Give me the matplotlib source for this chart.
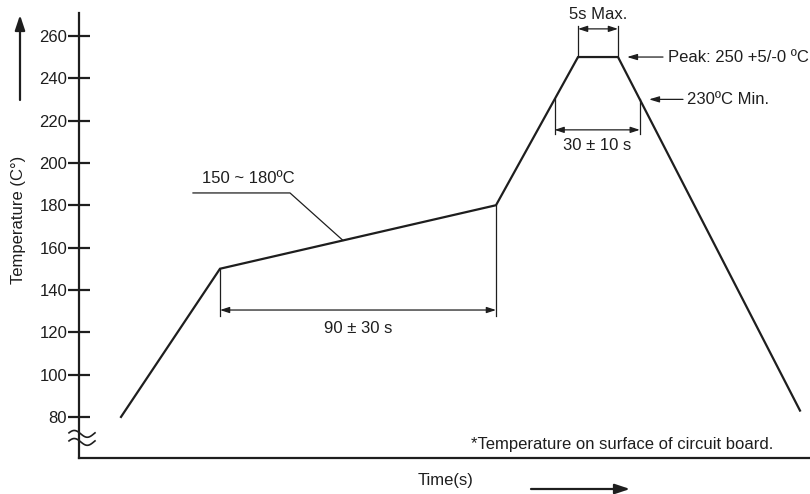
import numpy as np
import matplotlib
matplotlib.use('Agg')
import matplotlib.pyplot as plt

plt.rcParams['font.family'] = ['Liberation Sans', 'DejaVu Sans']

# reflow profile (schematic time units)
time = [42, 141, 417, 499, 539, 721]
temp = [80, 150, 180, 250, 250, 83]
yticks = [80, 100, 120, 140, 160, 180, 200, 220, 240, 260]
min_temp = 230

ink = '#1e1e1e'
fs = 12

fig = plt.figure(figsize=(8.1, 4.94), dpi=100)
ax = fig.add_axes([79 / 810, 36 / 494, 731 / 810, 445 / 494])
ax.plot(time, temp, color=ink, lw=1.6, solid_joinstyle='miter')
ax.set_xlim(0, 731)
ax.set_ylim(60.6, 270.8)

for s in ['top', 'right']:
    ax.spines[s].set_visible(False)
for s in ['left', 'bottom']:
    ax.spines[s].set_linewidth(1.6)
    ax.spines[s].set_color(ink)
ax.set_xticks([])
ax.set_yticks(yticks)
ax.tick_params(axis='y', direction='inout', length=16, width=1.6, color=ink,
               pad=0.5, labelsize=fs, labelcolor=ink)

# axis break mark
wx = np.linspace(-10, 16, 60)
for yb in [72.0, 68.2]:
    ax.plot(wx, yb + 1.6 * np.sin((wx + 10) / 26 * 2 * np.pi + 0.3), color=ink,
            lw=1.2, clip_on=False)

thin = dict(color=ink, lw=0.9)
arr = dict(arrowstyle='<|-|>,head_length=0.55,head_width=0.18', color=ink, lw=0.9,
           shrinkA=0, shrinkB=0)

# 230 crossings on ramp up / cool down
t_up = np.interp(min_temp, temp[2:4], time[2:4])
t_dn = np.interp(-min_temp, [-temp[4], -temp[5]], [time[4], time[5]])

# soak duration
ax.plot([time[1], time[1]], [temp[1], 127.7], **thin)
ax.plot([time[2], time[2]], [temp[2], 127.7], **thin)
ax.annotate('', xy=(time[1], 130.5), xytext=(time[2], 130.5), arrowprops=arr)
ax.text((time[1] + time[2]) / 2, 122, '90 ± 30 s', ha='center', va='center',
        fontsize=fs, color=ink)

# soak temperature leader
t_lead = 264
T_lead = np.interp(t_lead, time[1:3], temp[1:3])
ax.plot([114, 211, t_lead], [185.8, 185.8, T_lead], **thin)
ax.text(123, 192.5, '150 ~ 180ºC', ha='left', va='center', fontsize=fs, color=ink)

# peak dwell
ax.plot([time[3], time[3]], [temp[3], 264.7], **thin)
ax.plot([time[4], time[4]], [temp[4], 264.7], **thin)
ax.annotate('', xy=(time[3], 263.3), xytext=(time[4], 263.3), arrowprops=arr)
ax.text((time[3] + time[4]) / 2, 270.2, '5s Max.', ha='center', va='center',
        fontsize=fs, color=ink, clip_on=False)

# time above 230
ax.plot([t_up, t_up], [min_temp, 213.7], **thin)
ax.plot([t_dn, t_dn], [min_temp, 213.7], **thin)
ax.annotate('', xy=(t_up, 215.6), xytext=(t_dn, 215.6), arrowprops=arr)
ax.text((t_up + t_dn) / 2, 208, '30 ± 10 s', ha='center', va='center',
        fontsize=fs, color=ink)

side = dict(arrowstyle='-|>,head_length=0.6,head_width=0.18', color=ink, lw=0.9,
            shrinkA=0, shrinkB=0)
ax.annotate('', xy=(548, temp[4]), xytext=(584, temp[4]), arrowprops=side)
ax.text(589, temp[4], 'Peak: 250 +5/-0 ºC', ha='left', va='center', fontsize=fs,
        color=ink, clip_on=False)
ax.annotate('', xy=(570, min_temp), xytext=(604, min_temp), arrowprops=side)
ax.text(608, min_temp, '230ºC Min.', ha='left', va='center', fontsize=fs, color=ink)

ax.text(694, 67.2, '*Temperature on surface of circuit board.', ha='right',
        va='center', fontsize=fs, color=ink)

# axis titles and direction arrows
big = dict(arrowstyle='-|>,head_length=0.9,head_width=0.3', color=ink, lw=1.6,
           shrinkA=0, shrinkB=0)
fig.text(19 / 810, 1 - 220 / 494, 'Temperature (C°)', rotation=90, ha='center',
         va='center', fontsize=fs, color=ink)
ax.annotate('', xy=(20, 494 - 15), xytext=(20, 494 - 100), xycoords='figure pixels',
            textcoords='figure pixels', arrowprops=big)
fig.text(446 / 810, 1 - 480 / 494, 'Time(s)', ha='center', va='center',
         fontsize=fs, color=ink)
ax.annotate('', xy=(630, 5), xytext=(531, 5), xycoords='figure pixels',
            textcoords='figure pixels', arrowprops=big)

fig.savefig('out.png', dpi=100)
